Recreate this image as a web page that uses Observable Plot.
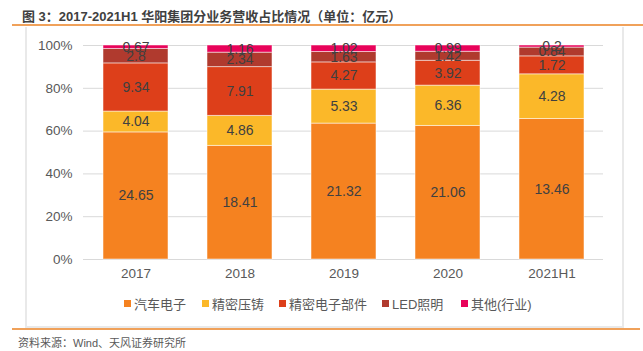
<!DOCTYPE html>
<html><head><meta charset="utf-8">
<script src="https://cdn.jsdelivr.net/npm/d3@7"></script>
<script src="https://cdn.jsdelivr.net/npm/@observablehq/plot@0.6"></script>
<style>
body{margin:0;width:643px;height:351px;position:relative;background:#fff;font-family:"Liberation Sans","Noto Sans CJK SC",sans-serif;overflow:hidden}
#title{position:absolute;left:22px;top:6px;font-size:13px;font-weight:bold;color:#404040;white-space:nowrap}
#line1{position:absolute;left:12px;top:24px;width:631px;height:2px;background:#f0a15a}
#box{position:absolute;left:25px;top:27px;width:595px;height:299px;border:2px solid #e9e9e9;border-top:none;box-sizing:content-box}
#chart{position:absolute;left:0;top:30px}
#legend{position:absolute;top:294px;left:0;width:643px;height:18px;font-size:13px;color:#595959}
.item{position:absolute;top:0;display:flex;align-items:center;white-space:nowrap}
.sw{width:7px;height:7px;margin-right:3px}
#line2{position:absolute;left:12px;top:328px;width:628px;height:2px;background:#f0a15a}
#source{position:absolute;left:18px;top:334px;font-size:11px;color:#595959;white-space:nowrap}
</style></head>
<body>
<div id="title">图 3：2017-2021H1 华阳集团分业务营收占比情况（单位：亿元）</div>
<div id="line1"></div>
<div id="box"></div>
<div id="chart"></div>
<div id="legend"></div>
<div id="line2"></div>
<div id="source">资料来源：Wind、天风证券研究所</div>
<script>
const years = ["2017","2018","2019","2020","2021H1"];
const seriesNames = ["汽车电子","精密压铸","精密电子部件","LED照明","其他(行业)"];
const seriesColors = ["#f58220","#fbb829","#dd3f1a","#b03a2e","#e8035a"];
const autoElectronics = [24.65,18.41,21.32,21.06,13.46];
const dieCasting = [4.04,4.86,5.33,6.36,4.28];
const precisionParts = [9.34,7.91,4.27,3.92,1.72];
const ledLighting = [2.8,2.34,1.63,1.42,0.84];
const others = [0.67,1.16,1.02,0.99,0.2];
const yTicks = [0,0.2,0.4,0.6,0.8,1];

const seriesValues = [autoElectronics, dieCasting, precisionParts, ledLighting, others];
const data = [];
seriesNames.forEach((s,i)=>years.forEach((y,j)=>data.push({year:y, series:s, value:seriesValues[i][j]})));

const chart = Plot.plot({
  width:643, height:260,
  marginLeft:83, marginRight:40, marginTop:15, marginBottom:31,
  style:{fontFamily:"Liberation Sans, Noto Sans CJK SC, sans-serif", fontSize:"13.5px", color:"#595959", background:"transparent"},
  x:{domain:years, paddingInner:0.375, paddingOuter:0.1875, label:null, tickSize:0, tickPadding:9},
  y:{domain:[0,1], ticks:yTicks, tickFormat:d=>Math.round(d*100)+"%", label:null, tickSize:0, tickPadding:11},
  color:{domain:seriesNames, range:seriesColors},
  marks:[
    Plot.ruleY(yTicks,{stroke:"#d9d9d9", strokeWidth:1}),
    Plot.barY(data, Plot.stackY({x:"year", y:"value", z:"series", fill:"series", order:null, offset:"normalize", stroke:"#ffffff", strokeOpacity:0.5, strokeWidth:1})),
    Plot.text(data, Plot.stackY({x:"year", y:"value", z:"series", order:null, offset:"normalize", text:d=>String(d.value), fill:"#404040", fontSize:14}))
  ]
});
document.getElementById("chart").appendChild(chart);

const legendX = [124, 202, 279, 382, 461];
const legend = document.getElementById("legend");
seriesNames.forEach((s,i)=>{
  const it = document.createElement("div");
  it.className="item"; it.style.left=legendX[i]+"px";
  it.innerHTML = `<span class="sw" style="background:${seriesColors[i]}"></span><span>${s}</span>`;
  legend.appendChild(it);
});
</script>
</body></html>
